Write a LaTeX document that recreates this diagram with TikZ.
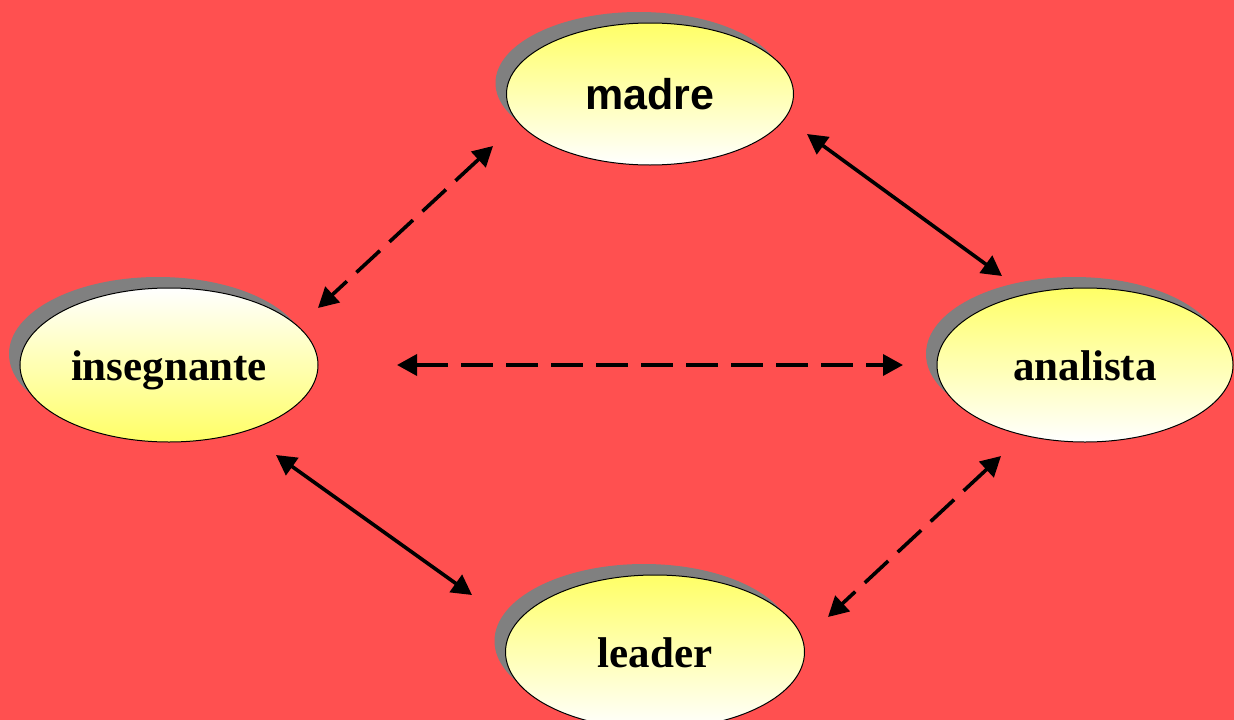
\documentclass[tikz,border=0pt]{standalone}
\usepackage{fontspec}
\setmainfont{Liberation Serif}
\newfontfamily\arialfont{Liberation Sans}
\usetikzlibrary{arrows.meta,shapes.geometric,shadows}
\definecolor{bgred}{HTML}{FF5050}
\definecolor{yel}{HTML}{FFFF66}
\definecolor{shgray}{HTML}{808080}
\tikzset{
  bubble/.style={ellipse, draw=black, line width=1pt, inner sep=0pt,
    text height=31pt, text depth=0pt,
    general shadow={shadow xshift=-11pt, shadow yshift=11pt, fill=shgray},
    font=\fontsize{43}{50}\selectfont\bfseries},
  yeltop/.style={top color=yel, bottom color=white},
  yelbot/.style={top color=white, bottom color=yel},
  link/.style={line width=3.6pt, {Triangle[length=20pt,width=21pt]}-{Triangle[length=20pt,width=21pt]}},
  dashlink/.style={link, dash pattern=on 32pt off 13pt},
}
\begin{document}
\begin{tikzpicture}[x=1pt,y=-1pt]
\useasboundingbox (0,0) rectangle (1234,720);
\fill[bgred] (0,0) rectangle (1234,720);
\node[bubble, yeltop, minimum width=287pt, minimum height=142pt] (madre) at (650,94) {\arialfont\bfseries madre};
\node[bubble, yelbot, minimum width=298pt, minimum height=154pt] (insegnante) at (169,365) {insegnante};
\node[bubble, yeltop, minimum width=296pt, minimum height=154pt] (analista) at (1085,365) {analista};
\node[bubble, yeltop, minimum width=299pt, minimum height=154pt] (leader) at (655,652) {leader};
\coordinate (mi1) at (493,146); \coordinate (mi2) at (318,308);
\coordinate (ma1) at (807,134); \coordinate (ma2) at (1002,276);
\coordinate (ia1) at (397,365); \coordinate (ia2) at (903,365);
\coordinate (il1) at (276,455); \coordinate (il2) at (472,595);
\coordinate (al1) at (1001,456); \coordinate (al2) at (828,617);
\draw[dashlink] (mi1) -- (mi2);
\draw[link] (ma1) -- (ma2);
\draw[dashlink] (ia1) -- (ia2);
\draw[link] (il1) -- (il2);
\draw[dashlink] (al1) -- (al2);
\end{tikzpicture}
\end{document}
